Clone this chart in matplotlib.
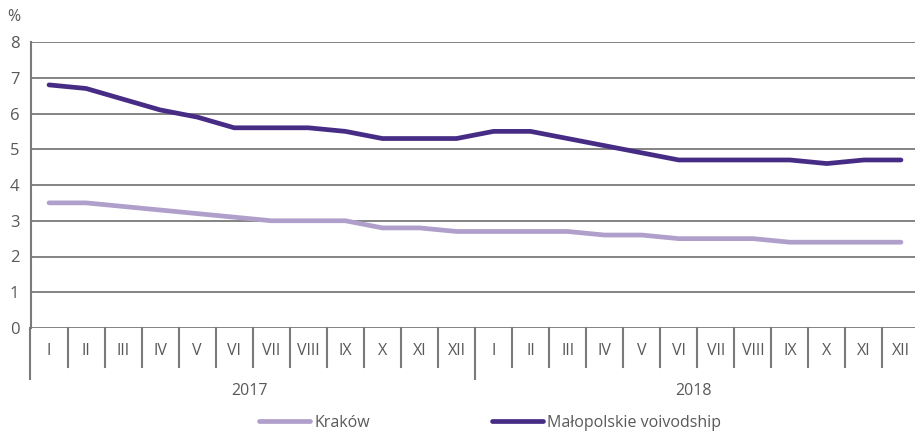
import matplotlib
matplotlib.use("Agg")
import matplotlib.pyplot as plt

months = ["I", "II", "III", "IV", "V", "VI", "VII", "VIII", "IX", "X", "XI", "XII"]
years = ["2017", "2018"]
krakow = [3.5, 3.5, 3.4, 3.3, 3.2, 3.1, 3.0, 3.0, 3.0, 2.8, 2.8, 2.7,
          2.7, 2.7, 2.7, 2.6, 2.6, 2.5, 2.5, 2.5, 2.4, 2.4, 2.4, 2.4]
malopolskie = [6.8, 6.7, 6.4, 6.1, 5.9, 5.6, 5.6, 5.6, 5.5, 5.3, 5.3, 5.3,
               5.5, 5.5, 5.3, 5.1, 4.9, 4.7, 4.7, 4.7, 4.7, 4.6, 4.7, 4.7]
yticks = [0, 1, 2, 3, 4, 5, 6, 7, 8]

plt.rcParams['font.family'] = ['Open Sans', 'DejaVu Sans']
TXT = '#595959'
GRID = '#7a7a7a'
C_LIGHT = '#b09fcb'
C_DARK = '#472c85'

W, H = 915, 434
fig = plt.figure(figsize=(W / 100, H / 100), dpi=100)
left, right, top, bottom = 30.5, 919.5, 42, 328
ax = fig.add_axes([left / W, 1 - bottom / H, (right - left) / W, (bottom - top) / H])

n = len(krakow)
x = list(range(n))
ax.plot(x, krakow, color=C_LIGHT, lw=3.4, solid_capstyle='round', solid_joinstyle='round',
        label='Kraków', zorder=3)
ax.plot(x, malopolskie, color=C_DARK, lw=3.4, solid_capstyle='round', solid_joinstyle='round',
        label='Małopolskie voivodship', zorder=4)

ax.set_xlim(-0.5, n - 0.5)
ax.set_ylim(0, 8)
ax.set_yticks(yticks)
ax.set_yticklabels([str(v) for v in yticks], fontsize=12, color=TXT)
ax.tick_params(axis='y', length=0, pad=8)
ax.set_xticks([])
for v in yticks:
    ax.axhline(v, color=GRID, lw=1.3, zorder=1)
for s in ['top', 'right', 'bottom']:
    ax.spines[s].set_visible(False)
ax.spines['left'].set_color(GRID)
ax.spines['left'].set_linewidth(1.5)
ax.spines['left'].set_bounds(0, 8)

def py(pix):
    return (bottom - pix) / (bottom - top) * 8  # data y for a pixel row

for i in range(n + 1):
    b = i - 0.5
    long_ = (i % 12 == 0)
    y_end = py(379) if long_ else py(367)
    ax.plot([b, b], [0, y_end], color=GRID, lw=1.5, clip_on=False, zorder=2)

labels = months * len(years)
for i, lab in enumerate(labels):
    ax.text(i, py(351), lab, ha='center', va='center', fontsize=11.5, color=TXT, clip_on=False)
for k, yr in enumerate(years):
    ax.text(k * 12 + 5.4, py(391), yr, ha='center', va='center', fontsize=11.5, color=TXT, clip_on=False)

fig.text(7 / W, 1 - 17 / H, '%', ha='left', va='center', fontsize=11.5, color=TXT)

fig.legend(loc='center', bbox_to_anchor=(490 / W, 1 - 423 / H), ncol=2, frameon=False,
           fontsize=11.5, handlelength=3.2, columnspacing=7.6, handletextpad=0.3,
           labelcolor=TXT)

fig.savefig('out.png', dpi=100)
